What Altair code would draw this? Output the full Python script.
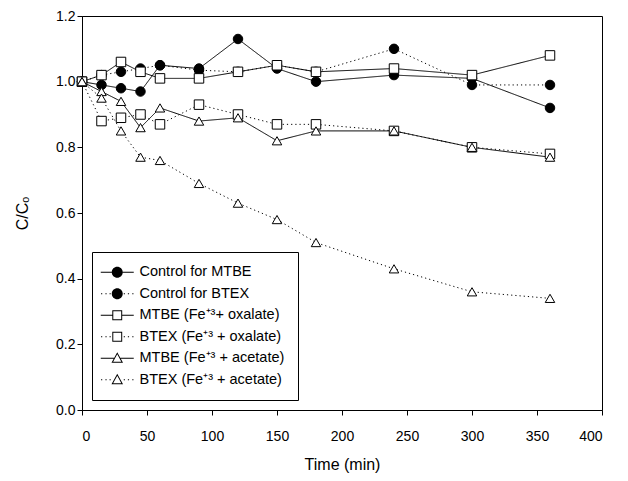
import altair as alt
import pandas as pd

# ---- data ----
times = [0, 15, 30, 45, 60, 90, 120, 150, 180, 240, 300, 360]
series_names = [
    "Control for MTBE",
    "Control for BTEX",
    "MTBE (Fe⁺³+ oxalate)",
    "BTEX (Fe⁺³ + oxalate)",
    "MTBE (Fe⁺³ + acetate)",
    "BTEX (Fe⁺³ + acetate)",
]
ctrl_mtbe = [1.00, 0.99, 0.98, 0.97, 1.05, 1.04, 1.13, 1.04, 1.00, 1.02, 1.01, 0.92]
ctrl_btex = [1.00, 1.02, 1.03, 1.04, 1.05, 1.035, 1.03, 1.05, 1.03, 1.10, 0.99, 0.99]
mtbe_ox = [1.00, 1.02, 1.06, 1.03, 1.01, 1.01, 1.03, 1.05, 1.03, 1.04, 1.02, 1.08]
btex_ox = [1.00, 0.88, 0.89, 0.90, 0.87, 0.93, 0.90, 0.87, 0.87, 0.85, 0.80, 0.78]
mtbe_ac = [1.00, 0.97, 0.94, 0.86, 0.92, 0.88, 0.89, 0.82, 0.85, 0.85, 0.80, 0.77]
btex_ac = [1.00, 0.95, 0.85, 0.77, 0.76, 0.69, 0.63, 0.58, 0.51, 0.43, 0.36, 0.34]
x_ticks = [0, 50, 100, 150, 200, 250, 300, 350, 400]
y_ticks = [0.0, 0.2, 0.4, 0.6, 0.8, 1.0, 1.2]

all_values = [ctrl_mtbe, ctrl_btex, mtbe_ox, btex_ox, mtbe_ac, btex_ac]
rows = []
for name, vals in zip(series_names, all_values):
    for t, v in zip(times, vals):
        rows.append({"series": name, "t": t, "v": v})
df = pd.DataFrame(rows)

# ---- styles ----
dash_range = [[1, 0], [1.2, 3], [1, 0], [1.2, 3], [1, 0], [1.2, 3]]
shape_range = ["circle", "circle", "square", "square", "triangle-up", "triangle-up"]
fill_range = ["black", "black", "white", "white", "white", "white"]

# legend glyphs drawn purely with fill (line pieces as thin bars, open marks as rings)
def bar(x0, x1):
    return f"M{x0},-0.09H{x1}V0.09H{x0}Z"

def dotted(inner):
    xs = [-2.95, -2.15, -1.4]
    out = ""
    for x in xs:
        if x + 0.22 <= -inner:
            out += bar(x, round(x + 0.22, 2))
        xr = -x - 0.22
        if xr >= inner:
            out += bar(round(xr, 2), -x)
    return out

circ = "M-1,0A1,1 0 1,0 1,0A1,1 0 1,0 -1,0Z"
sq_ring = "M-0.9,-0.9H0.9V0.9H-0.9ZM-0.72,-0.72V0.72H0.72V-0.72Z"
tri_ring = "M0,-1.1L1.05,0.8L-1.05,0.8ZM0,-0.727L-0.744,0.62L0.744,0.62Z"
legend_paths = [
    bar(-3, -1) + bar(1, 3) + circ,
    dotted(1.0) + circ,
    bar(-3, -0.9) + bar(0.9, 3) + sq_ring,
    dotted(0.9) + sq_ring,
    bar(-3, -0.6) + bar(0.6, 3) + tri_ring,
    dotted(0.6) + tri_ring,
]

x_enc = alt.X(
    "t:Q",
    scale=alt.Scale(domain=[0, 400], nice=False),
    axis=alt.Axis(values=x_ticks, title="Time (min)", labelPadding=14, titlePadding=13),
)
y_enc = alt.Y(
    "v:Q",
    scale=alt.Scale(domain=[0, 1.2], nice=False),
    axis=alt.Axis(values=y_ticks, format=".1f", title="C/Cₒ", titlePadding=25),
)

base = alt.Chart(df)

lines = base.mark_line(color="black", strokeWidth=1).encode(
    x=x_enc,
    y=y_enc,
    detail="series:N",
    strokeDash=alt.StrokeDash(
        "series:N", scale=alt.Scale(domain=series_names, range=dash_range), legend=None
    ),
)

points = base.mark_point(
    filled=True, stroke="black", strokeWidth=1, size=90, opacity=1
).encode(
    x=x_enc,
    y=y_enc,
    shape=alt.Shape("series:N", scale=alt.Scale(domain=series_names, range=shape_range), legend=None),
    fill=alt.Fill("series:N", scale=alt.Scale(domain=series_names, range=fill_range), legend=None),
)

leg = alt.Legend(
    title=None,
    orient="none",
    legendX=10,
    legendY=236,
    padding=13,
    rowPadding=6.5,
    symbolSize=121,
    symbolOffset=5,
    labelOffset=15,
    symbolFillColor="black",
    symbolStrokeWidth=0,
    symbolOpacity=1,
    labelFontSize=14.5,
    labelFont="Liberation Sans",
    labelColor="black",
    strokeColor="black",
    fillColor="white",
    labelLimit=400,
)

legend_layer = base.transform_filter("datum.t < 0").mark_point(
    filled=True, color="black", opacity=1
).encode(
    x=x_enc,
    y=y_enc,
    shape=alt.Shape("series:N", scale=alt.Scale(domain=series_names, range=legend_paths), legend=leg),
)

chart = (
    alt.layer(lines, points, legend_layer)
    .resolve_scale(shape="independent")
    .properties(
        width=520,
        height=394,
        autosize=alt.AutoSizeParams(type="none"),
        padding={"left": 74, "top": 8, "right": 18, "bottom": 63},
    )
    .configure_view(stroke="black", strokeWidth=1)
    .configure_axis(
        grid=False,
        domainColor="black",
        tickColor="black",
        labelColor="black",
        titleColor="black",
        labelFont="Liberation Sans",
        titleFont="Liberation Sans",
        labelFontSize=14,
        titleFontSize=16,
        titleFontWeight="normal",
        tickSize=5,
    )
)

chart.save("out.html", embed_options={"renderer": "svg", "actions": False})
